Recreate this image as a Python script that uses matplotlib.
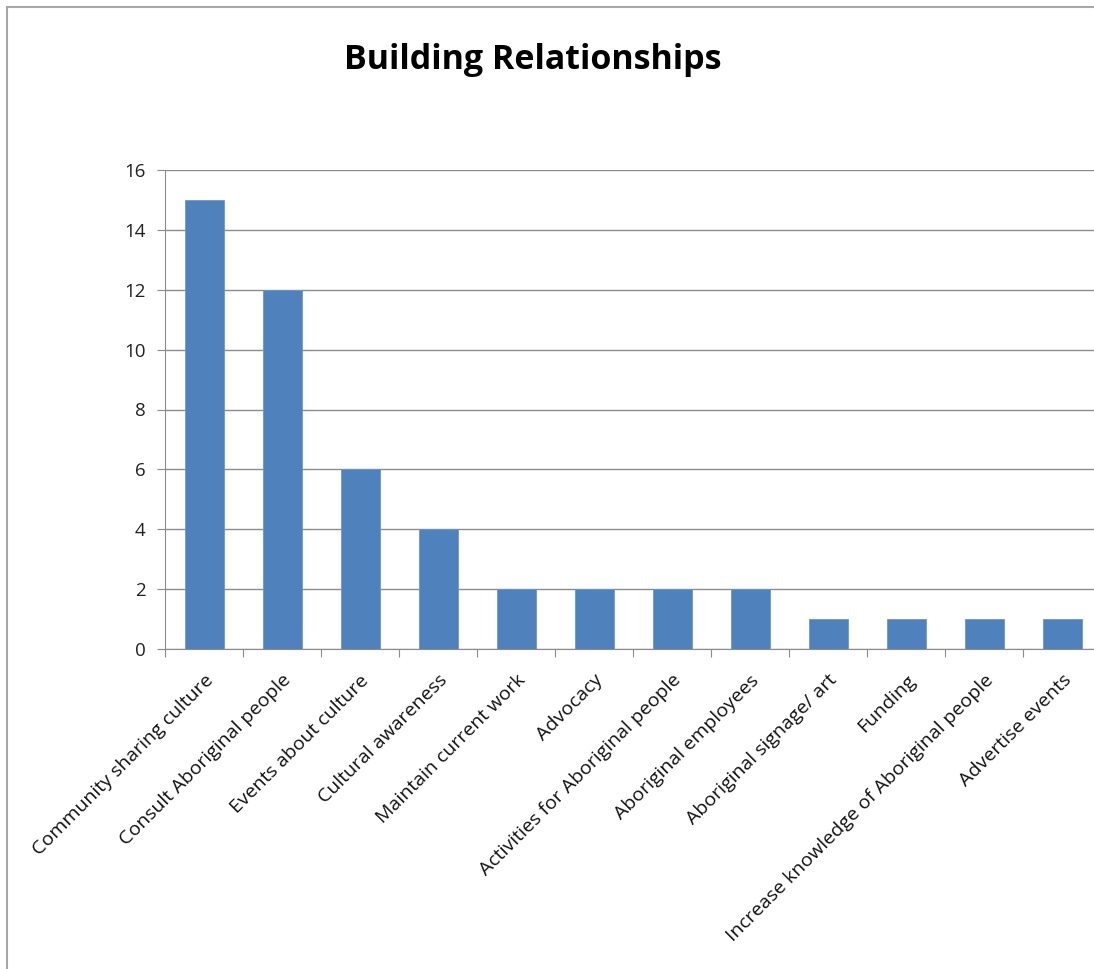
import matplotlib
matplotlib.use("Agg")
import matplotlib.pyplot as plt
from matplotlib.patches import Rectangle

categories = [
    "Community sharing culture",
    "Consult Aboriginal people",
    "Events about culture",
    "Cultural awareness",
    "Maintain current work",
    "Advocacy",
    "Activities for Aboriginal people",
    "Aboriginal employees",
    "Aboriginal signage/ art",
    "Funding",
    "Increase knowledge of Aboriginal people",
    "Advertise events",
]
counts = [15, 12, 6, 4, 2, 2, 2, 2, 1, 1, 1, 1]
yticks = [0, 2, 4, 6, 8, 10, 12, 14, 16]

plt.rcParams['font.family'] = ['Open Sans', 'DejaVu Sans']

fig = plt.figure(figsize=(10.94, 9.69), dpi=100)
fig.patch.set_facecolor('white')

# chart border (runs off the right and bottom of the picture)
fig.patches.append(Rectangle((7 / 1094, -0.1), 1.2, 1.1 - 7 / 969,
                             transform=fig.transFigure, fill=False,
                             edgecolor='#a6a6a6', linewidth=1.5))

ax = fig.add_axes([165 / 1094, 320 / 969, 936 / 1094, 479 / 969])
x = list(range(len(categories)))
ax.bar(x, counts, width=0.5, color='#4F81BD', edgecolor='#6f96c8', linewidth=0.6, zorder=3)

ax.set_xlim(-0.5, len(categories) - 0.5)
ax.set_ylim(0, 16)
ax.set_yticks(yticks)
ax.set_yticklabels([str(v) for v in yticks], fontsize=13.5, color='#222222')
ax.yaxis.grid(True, color='#8c8c8c', linewidth=1, zorder=0)

ax.set_xticks([i - 0.5 for i in range(len(categories) + 1)])
ax.set_xticklabels([])
ax.set_xticks(x, minor=True)
ax.set_xticklabels(categories, minor=True, rotation=45, ha='right',
                   rotation_mode='anchor', fontsize=14, color='#111111')
ax.tick_params(axis='x', which='minor', length=0, pad=16)
ax.tick_params(axis='x', which='major', length=6, color='#8c8c8c', direction='out')
ax.tick_params(axis='y', length=6, color='#8c8c8c', pad=8)

for s in ['top', 'right']:
    ax.spines[s].set_visible(False)
ax.spines['left'].set_color('#8c8c8c')
ax.spines['bottom'].set_color('#8c8c8c')

fig.text(533 / 1094, 1 - 60 / 969, "Building Relationships", ha='center', va='center',
         fontsize=24.5, fontweight='bold', color='black')

fig.savefig("out.png", dpi=100)
